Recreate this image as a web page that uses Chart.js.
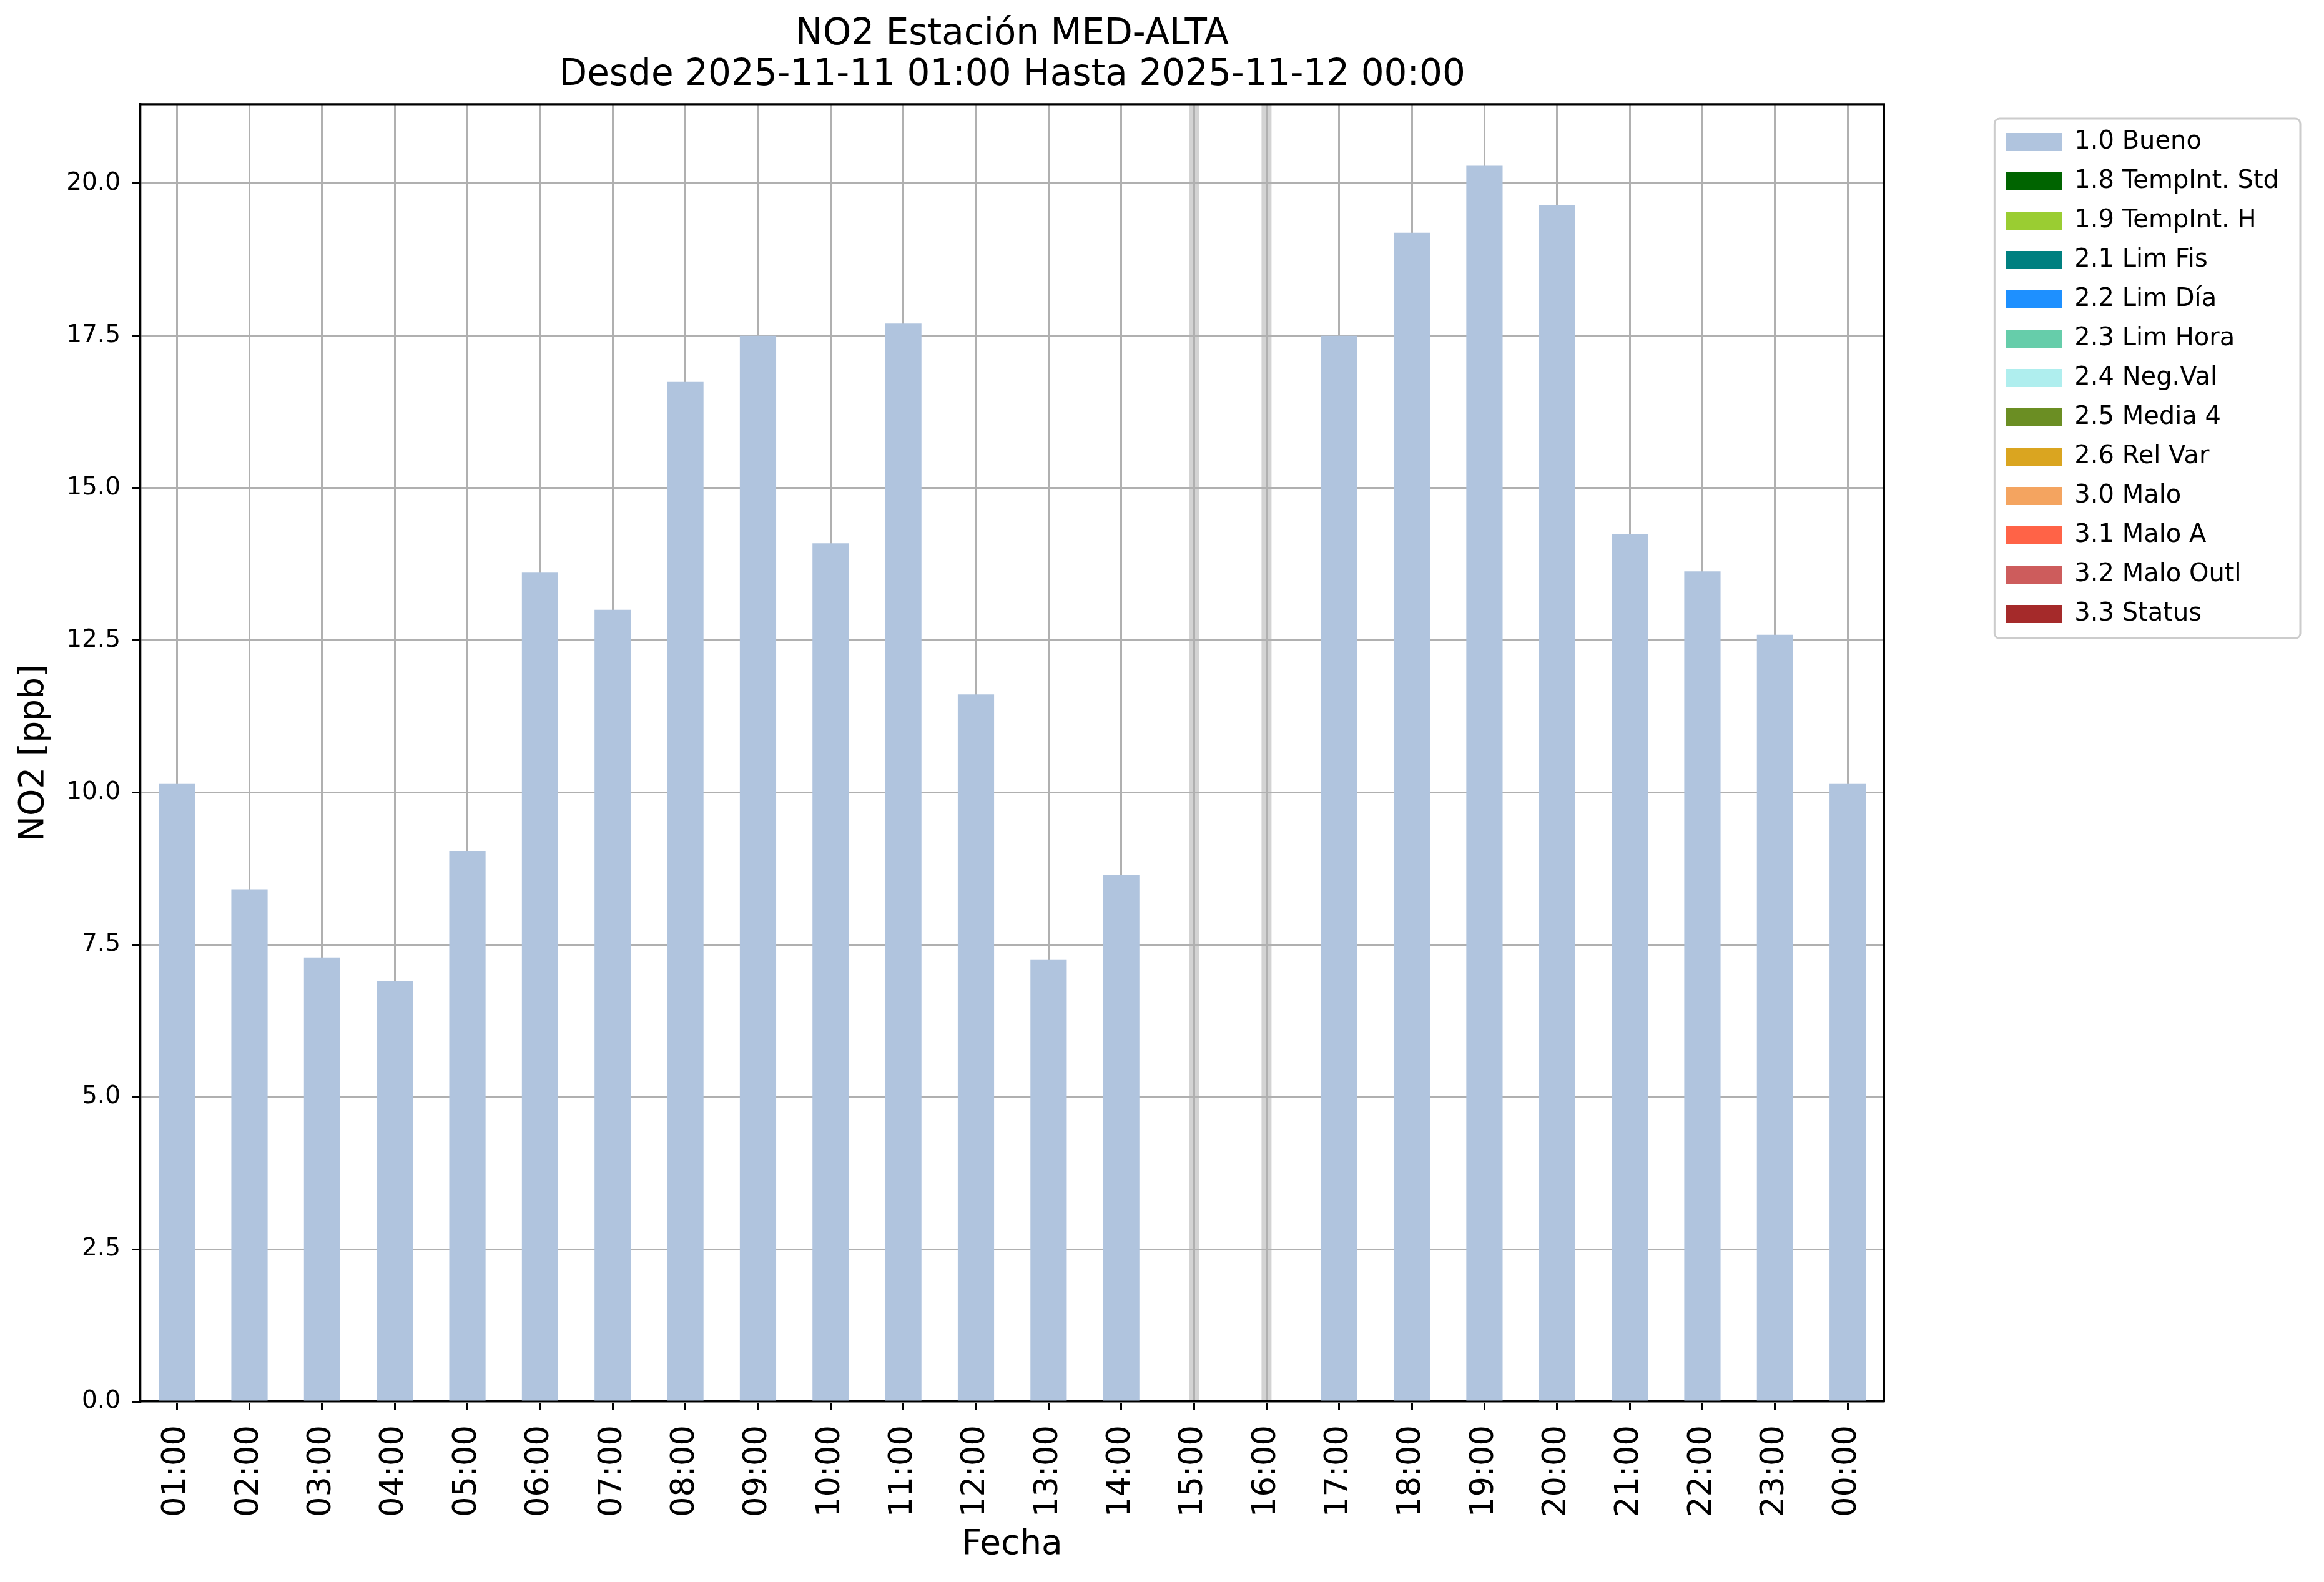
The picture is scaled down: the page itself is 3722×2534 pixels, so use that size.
<!DOCTYPE html>
<html>
<head>
<meta charset="utf-8">
<script src="https://cdn.jsdelivr.net/npm/chart.js@4.4.1/dist/chart.umd.min.js"></script>
<style>
  html, body { margin: 0; padding: 0; background: #fff; }
  #wrap { width: 3722px; height: 2534px; }
</style>
</head>
<body>
<div id="wrap"><canvas id="myChart" width="3722" height="2534"></canvas></div>
<script>
// hourly categories on the x axis
const hours = ['01:00', '02:00', '03:00', '04:00', '05:00', '06:00', '07:00', '08:00',
  '09:00', '10:00', '11:00', '12:00', '13:00', '14:00', '15:00', '16:00',
  '17:00', '18:00', '19:00', '20:00', '21:00', '22:00', '23:00', '00:00'];

// NO2 [ppb], flag 1.0 Bueno; null = no data (15:00, 16:00)
const bueno = [10.15, 8.41, 7.29, 6.90, 9.04, 13.61, 13.00, 16.74,
  17.50, 14.09, 17.70, 11.61, 7.26, 8.65, null, null,
  17.50, 19.19, 20.29, 19.65, 14.24, 13.63, 12.59, 10.15];

// quality flags shown in the legend (only Bueno has values here)
const flagLabels = ['1.0 Bueno', '1.8 TempInt. Std', '1.9 TempInt. H', '2.1 Lim Fis',
  '2.2 Lim Día', '2.3 Lim Hora', '2.4 Neg.Val', '2.5 Media 4', '2.6 Rel Var',
  '3.0 Malo', '3.1 Malo A', '3.2 Malo Outl', '3.3 Status'];
const flagColors = ['#b0c4de', '#006400', '#9acd32', '#008080', '#1e90ff', '#66cdaa',
  '#afeeee', '#6b8e23', '#daa520', '#f4a460', '#ff6347', '#cd5c5c', '#a52a2a'];

const yMax = 21.3;
const yStep = 2.5;

const FONT = 'DejaVu Sans';
Chart.defaults.font.family = FONT;
Chart.defaults.color = '#000';

// light grey band on the hours without data
const missingBands = {
  id: 'missingBands',
  beforeDraw(chart) {
    const { ctx, chartArea, scales: { x } } = chart;
    ctx.save();
    ctx.strokeStyle = '#d3d3d3';
    ctx.lineWidth = 16;
    bueno.forEach((v, i) => {
      if (v !== null) return;
      const px = x.getPixelForValue(i);
      ctx.beginPath();
      ctx.moveTo(px, chartArea.top);
      ctx.lineTo(px, chartArea.bottom);
      ctx.stroke();
    });
    ctx.restore();
  }
};

// top/right spines and the legend frame
const frames = {
  id: 'frames',
  afterDraw(chart) {
    const { ctx, chartArea: a } = chart;
    ctx.save();
    ctx.strokeStyle = '#000';
    ctx.lineWidth = 3.3;
    ctx.beginPath();
    ctx.moveTo(a.left, a.top);
    ctx.lineTo(a.right, a.top);
    ctx.lineTo(a.right, a.bottom);
    ctx.stroke();

    const boxes = chart.legend && chart.legend.legendHitBoxes;
    if (boxes && boxes.length) {
      const first = boxes[0];
      const last = boxes[boxes.length - 1];
      const left = first.left - 18;
      const right = Math.max(...boxes.map(b => b.left + b.width)) + 34;
      const top = first.top + first.height / 2 - 37.5;
      const bottom = last.top + last.height / 2 + 39;
      ctx.strokeStyle = '#cccccc';
      ctx.lineWidth = 3;
      ctx.beginPath();
      ctx.roundRect(left, top, right - left, bottom - top, 8);
      ctx.stroke();
    }
    ctx.restore();
  }
};

const datasets = flagLabels.map((label, i) => ({
  label: label,
  data: i === 0 ? bueno : [],
  backgroundColor: flagColors[i],
  borderColor: flagColors[i],
  borderWidth: 0,
  barPercentage: 0.5,
  categoryPercentage: 1.0
}));

new Chart(document.getElementById('myChart'), {
  type: 'bar',
  data: { labels: hours, datasets: datasets },
  options: {
    responsive: false,
    devicePixelRatio: 1,
    animation: false,
    events: [],
    layout: { padding: { left: 0, right: 62, top: 0, bottom: 0 } },
    scales: {
      x: {
        stacked: true,
        z: 1,
        grid: { offset: false, color: '#b0b0b0', lineWidth: 3, tickLength: 14, tickColor: '#000', tickWidth: 3 },
        border: { color: '#000', width: 3.3 },
        ticks: { autoSkip: false, maxRotation: 90, minRotation: 90, padding: 24, color: '#000', font: { size: 51 } },
        title: { display: true, text: 'Fecha', color: '#000', font: { size: 55 }, padding: { top: 0, bottom: 26 } },
        afterFit(scale) { scale.height = 289; }
      },
      y: {
        stacked: true,
        z: 1,
        min: 0,
        max: yMax,
        grid: { color: '#b0b0b0', lineWidth: 3, tickLength: 14, tickColor: '#000', tickWidth: 3 },
        border: { color: '#000', width: 3.3 },
        ticks: {
          stepSize: yStep,
          includeBounds: false,
          padding: 18,
          color: '#000',
          font: { size: 39 },
          callback: v => Number(v).toFixed(1)
        },
        title: { display: true, text: 'NO2 [ppb]', color: '#000', font: { size: 55 }, padding: { top: 22, bottom: 0 } },
        afterFit(scale) { scale.width = 225; }
      },
      gap: {
        type: 'linear',
        position: 'right',
        display: true,
        grid: { display: false, drawTicks: false },
        border: { display: false },
        ticks: { display: false },
        afterFit(scale) { scale.width = 172; }
      }
    },
    plugins: {
      tooltip: { enabled: false },
      title: {
        display: true,
        fullSize: false,
        text: ['NO2 Estación MED-ALTA', 'Desde 2025-11-11 01:00 Hasta 2025-11-12 00:00'],
        color: '#000',
        font: { size: 58, weight: 'normal', lineHeight: 1.12 },
        padding: { top: 23.5, bottom: 13.5 }
      },
      legend: {
        position: 'right',
        align: 'start',
        fullSize: false,
        title: { display: true, text: '', font: { size: 1, lineHeight: 0 }, padding: { top: 17.5, bottom: 0 } },
        labels: {
          boxWidth: 90,
          boxHeight: 29,
          padding: 23,
          color: '#000',
          font: { size: 40 }
        }
      }
    }
  },
  plugins: [missingBands, frames]
});
</script>
</body>
</html>
